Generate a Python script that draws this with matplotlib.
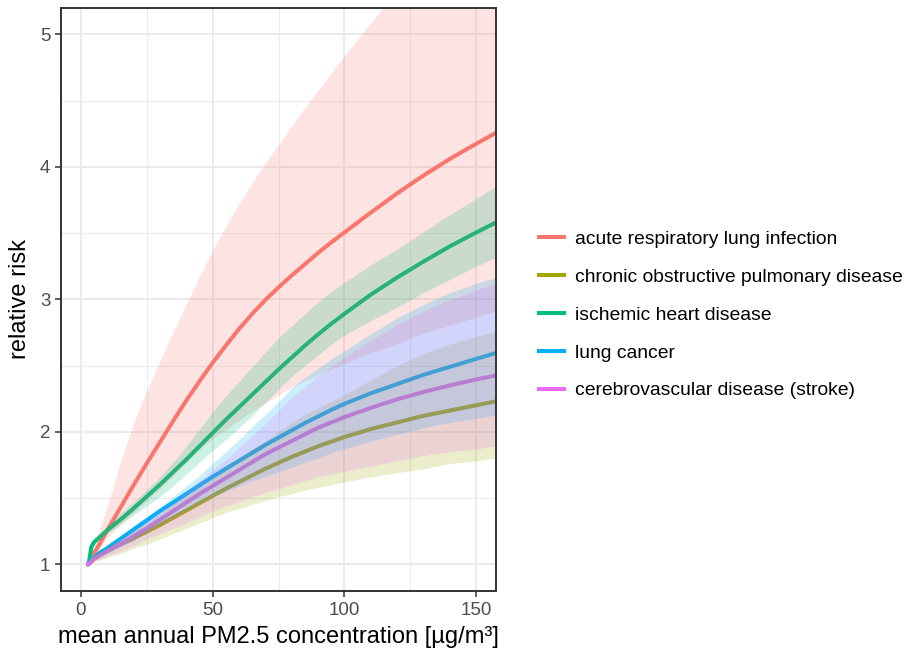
import matplotlib
matplotlib.use("Agg")
import matplotlib.pyplot as plt
from matplotlib.ticker import MultipleLocator

plt.rcParams['font.family'] = ['Liberation Sans', 'DejaVu Sans']

# PM2.5 concentration grid (µg/m³)
conc = [2, 3, 4, 5, 7.5, 10, 15, 20, 25, 30, 35, 40, 45, 50, 55, 60, 65, 70, 75, 80,
        85, 90, 95, 100, 110, 120, 130, 140, 150, 160]

causes = ['acute respiratory lung infection',
          'chronic obstructive pulmonary disease',
          'ischemic heart disease',
          'lung cancer',
          'cerebrovascular disease (stroke)']
colors = ['#F8766D', '#A3A500', '#00BF7D', '#00B0F6', '#E76BF3']

# relative risk: central estimate, lower and upper bound per cause
alri_rr = [1.0, 1.0, 1.04, 1.08, 1.165, 1.255, 1.425, 1.595, 1.76, 1.92, 2.08, 2.235, 2.38, 2.52,
           2.65, 2.775, 2.89, 2.995, 3.09, 3.18, 3.265, 3.35, 3.43, 3.505,
           3.655, 3.80, 3.935, 4.06, 4.175, 4.285]
alri_lo = [1.0, 1.0, 1.02, 1.05, 1.12, 1.19, 1.29, 1.38, 1.47, 1.56, 1.66, 1.76, 1.86, 1.94,
           2.01, 2.08, 2.15, 2.21, 2.27, 2.33, 2.38, 2.42, 2.47, 2.51,
           2.59, 2.66, 2.74, 2.80, 2.86, 2.92]
alri_hi = [1.0, 1.0, 1.06, 1.12, 1.27, 1.42, 1.75, 2.05, 2.30, 2.52, 2.74, 2.95, 3.16, 3.36,
           3.54, 3.71, 3.87, 4.02, 4.16, 4.30, 4.44, 4.57, 4.70, 4.83,
           5.08, 5.32, 5.55, 5.78, 6.00, 6.21]

copd_rr = [1.0, 1.0, 1.02, 1.04, 1.07, 1.10, 1.15, 1.195, 1.245, 1.295, 1.35, 1.405, 1.46, 1.515,
           1.57, 1.62, 1.67, 1.72, 1.765, 1.81, 1.85, 1.89, 1.925, 1.96,
           2.02, 2.07, 2.12, 2.16, 2.20, 2.24]
copd_lo = [1.0, 1.0, 1.01, 1.02, 1.03, 1.05, 1.08, 1.12, 1.15, 1.19, 1.23, 1.27, 1.31, 1.35,
           1.39, 1.42, 1.45, 1.48, 1.51, 1.53, 1.56, 1.58, 1.60, 1.62,
           1.66, 1.69, 1.72, 1.76, 1.78, 1.81]
copd_hi = [1.0, 1.0, 1.03, 1.06, 1.10, 1.13, 1.19, 1.25, 1.31, 1.38, 1.45, 1.52, 1.59, 1.66,
           1.73, 1.80, 1.87, 1.93, 2.00, 2.07, 2.13, 2.18, 2.23, 2.28,
           2.39, 2.50, 2.59, 2.66, 2.72, 2.77]

ihd_rr = [1.0, 1.0, 1.13, 1.165, 1.21, 1.255, 1.335, 1.42, 1.51, 1.60, 1.695, 1.79, 1.89, 1.99,
          2.09, 2.185, 2.28, 2.375, 2.47, 2.56, 2.65, 2.735, 2.815, 2.89,
          3.035, 3.165, 3.285, 3.40, 3.505, 3.605]
ihd_lo = [1.0, 1.0, 1.13, 1.15, 1.19, 1.23, 1.30, 1.37, 1.44, 1.51, 1.59, 1.68, 1.77, 1.86,
          1.94, 2.03, 2.12, 2.22, 2.32, 2.42, 2.50, 2.58, 2.66, 2.73,
          2.84, 2.94, 3.05, 3.15, 3.25, 3.34]
ihd_hi = [1.0, 1.0, 1.13, 1.17, 1.23, 1.29, 1.38, 1.47, 1.56, 1.66, 1.77, 1.89, 2.02, 2.15,
          2.27, 2.38, 2.49, 2.60, 2.71, 2.80, 2.89, 2.98, 3.06, 3.13,
          3.26, 3.38, 3.51, 3.64, 3.76, 3.89]

lc_rr = [1.0, 1.0, 1.03, 1.05, 1.09, 1.12, 1.19, 1.26, 1.33, 1.40, 1.465, 1.53, 1.595, 1.66,
         1.72, 1.78, 1.84, 1.90, 1.955, 2.01, 2.065, 2.115, 2.165, 2.21,
         2.29, 2.36, 2.43, 2.49, 2.55, 2.61]
lc_lo = [1.0, 1.0, 1.02, 1.04, 1.06, 1.08, 1.13, 1.18, 1.24, 1.30, 1.36, 1.41, 1.46, 1.51,
         1.55, 1.59, 1.63, 1.66, 1.70, 1.73, 1.77, 1.80, 1.84, 1.87,
         1.93, 1.98, 2.03, 2.07, 2.10, 2.135]
lc_hi = [1.0, 1.0, 1.04, 1.06, 1.10, 1.14, 1.21, 1.29, 1.36, 1.43, 1.51, 1.59, 1.67, 1.76,
         1.85, 1.94, 2.04, 2.13, 2.23, 2.33, 2.41, 2.48, 2.55, 2.61,
         2.74, 2.86, 2.96, 3.05, 3.12, 3.18]

stroke_rr = [1.0, 1.0, 1.02, 1.04, 1.07, 1.10, 1.15, 1.21, 1.27, 1.335, 1.40, 1.465, 1.53, 1.59,
             1.65, 1.71, 1.77, 1.83, 1.88, 1.93, 1.98, 2.03, 2.07, 2.11,
             2.18, 2.245, 2.30, 2.35, 2.395, 2.435]
stroke_lo = [1.0, 1.0, 1.01, 1.02, 1.04, 1.06, 1.10, 1.14, 1.19, 1.23, 1.27, 1.31, 1.36, 1.40,
             1.44, 1.47, 1.51, 1.54, 1.57, 1.60, 1.63, 1.66, 1.68, 1.70,
             1.74, 1.78, 1.82, 1.85, 1.87, 1.90]
stroke_hi = [1.0, 1.0, 1.03, 1.05, 1.08, 1.12, 1.19, 1.26, 1.33, 1.40, 1.47, 1.55, 1.63, 1.71,
             1.79, 1.88, 1.97, 2.06, 2.16, 2.26, 2.34, 2.42, 2.49, 2.56,
             2.69, 2.81, 2.91, 3.00, 3.07, 3.14]

rr = [alri_rr, copd_rr, ihd_rr, lc_rr, stroke_rr]
lo = [alri_lo, copd_lo, ihd_lo, lc_lo, stroke_lo]
hi = [alri_hi, copd_hi, ihd_hi, lc_hi, stroke_hi]

fig = plt.figure(figsize=(9.08, 6.51), dpi=100)
ax = fig.add_axes([61 / 908, 60 / 651, 435 / 908, 583 / 651])

# lines first, confidence ribbons drawn over them
for i in range(len(causes)):
    ax.plot(conc, rr[i], color=colors[i], lw=2.9, label=causes[i], zorder=2,
            solid_capstyle='butt', solid_joinstyle='round')
for i in range(len(causes)):
    ax.fill_between(conc, lo[i], hi[i], color=colors[i], alpha=0.2, lw=0, zorder=3)

ax.set_xlim(-7.5, 157.5)
ax.set_ylim(0.797, 5.2)
ax.xaxis.set_major_locator(MultipleLocator(50))
ax.xaxis.set_minor_locator(MultipleLocator(25))
ax.yaxis.set_major_locator(MultipleLocator(1))
ax.yaxis.set_minor_locator(MultipleLocator(0.5))

ax.grid(which='major', color='#EBEBEB', lw=1.5, zorder=0)
ax.grid(which='minor', color='#EBEBEB', lw=0.75, zorder=0)
ax.set_axisbelow(True)
for s in ax.spines.values():
    s.set_color('#333333')
    s.set_linewidth(1.4)
    s.set_zorder(5)

ax.tick_params(which='major', length=4.3, width=1.1, color='#333333',
               labelsize=13.5, labelcolor='#4D4D4D', pad=3.4)
ax.tick_params(which='minor', length=0)

ax.set_xlabel('mean annual PM2.5 concentration [µg/m³]', fontsize=17, labelpad=5)
ax.set_ylabel('relative risk', fontsize=17, labelpad=6)

fig.legend(loc='center left', bbox_to_anchor=(537 / 908, (651 - 315) / 651),
           frameon=False, fontsize=13.85, handlelength=1.53, handletextpad=0.42,
           labelspacing=1.06, borderpad=0, borderaxespad=0)

fig.savefig('out.png', dpi=100)
